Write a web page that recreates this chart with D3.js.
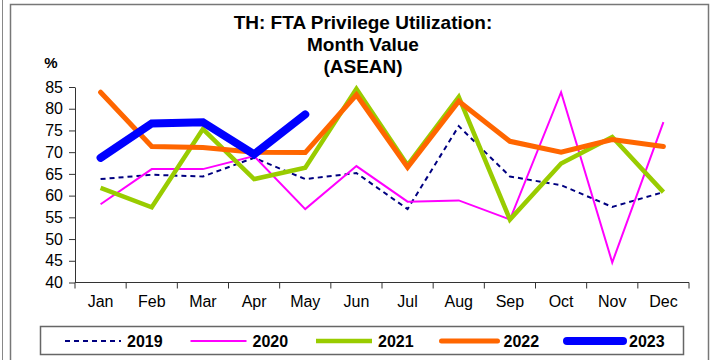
<!DOCTYPE html>
<html>
<head>
<meta charset="utf-8">
<script src="https://cdn.jsdelivr.net/npm/d3@7"></script>
<style>
  html, body { margin: 0; padding: 0; background: #fff; }
  svg { display: block; font-family: "Liberation Sans", Arial, sans-serif; }
</style>
</head>
<body>
<svg id="chart" width="712" height="360"></svg>
<script>
// Monthly FTA privilege utilization rate (%), ASEAN
const months = ["Jan", "Feb", "Mar", "Apr", "May", "Jun", "Jul", "Aug", "Sep", "Oct", "Nov", "Dec"];
const y2019 = [63.8, 64.8, 64.4, 68.7, 63.8, 65.2, 56.9, 76.0, 64.4, 62.4, 57.4, 60.8];
const y2020 = [58.0, 66.1, 66.1, 69.1, 56.9, 66.8, 58.6, 58.9, 54.5, 83.8, 44.6, 76.9];
const y2021 = [61.8, 57.3, 75.3, 63.8, 66.4, 84.6, 67.0, 82.7, 54.5, 67.4, 73.5, 60.8];
const y2022 = [83.8, 71.3, 71.1, 70.0, 69.9, 83.2, 66.5, 81.7, 72.5, 70.0, 72.9, 71.3];
const y2023 = [68.7, 76.6, 76.9, 69.5, 78.7];
const yTicks = [40, 45, 50, 55, 60, 65, 70, 75, 80, 85];
const titleLines = ["TH: FTA Privilege Utilization:", "Month Value", "(ASEAN)"];

const series = [
  { name: "2019", values: y2019, color: "#000080", width: 2, dash: "5,4", cap: "butt" },
  { name: "2020", values: y2020, color: "#FF00FF", width: 2, dash: null, cap: "butt" },
  { name: "2021", values: y2021, color: "#99CC00", width: 4.5, dash: null, cap: "butt" },
  { name: "2022", values: y2022, color: "#FF6600", width: 5, dash: null, cap: "round" },
  { name: "2023", values: y2023, color: "#0000FF", width: 8, dash: null, cap: "round" }
];

const svg = d3.select("#chart");
const plot = { left: 75, right: 689, top: 87, bottom: 282.5 };

// outer frames
svg.append("line").attr("x1", 2.5).attr("x2", 2.5).attr("y1", 0).attr("y2", 360)
  .attr("stroke", "#888").attr("stroke-width", 1);
svg.append("rect").attr("x", 10.5).attr("y", 4.5).attr("width", 698).attr("height", 400)
  .attr("fill", "none").attr("stroke", "#777").attr("stroke-width", 1.5);

// title
svg.append("g").selectAll("text").data(titleLines).join("text")
  .attr("x", 363).attr("y", (d, i) => 29 + i * 22)
  .attr("text-anchor", "middle").attr("font-weight", "bold").attr("font-size", 19)
  .text(d => d);

const x = d3.scaleBand().domain(months).range([plot.left, plot.right]).padding(0);
const y = d3.scaleLinear().domain([40, 85]).range([plot.bottom, plot.top]);

// y axis
const yAxis = svg.append("g").attr("transform", `translate(${plot.left},0)`)
  .call(d3.axisLeft(y).tickValues(yTicks).tickSize(6).tickPadding(6).tickSizeOuter(0));
yAxis.selectAll("text").attr("font-size", 16).attr("fill", "#000").attr("font-family", "Liberation Sans, Arial, sans-serif");
yAxis.select(".domain").attr("stroke", "#333");
yAxis.selectAll(".tick line").attr("stroke", "#333");

svg.append("text").attr("x", 51).attr("y", 68).attr("text-anchor", "middle")
  .attr("font-weight", "bold").attr("font-size", 15).text("%");

// x axis with tick marks on category boundaries
const xAxisG = svg.append("g").attr("transform", `translate(0,${plot.bottom})`);
xAxisG.append("line").attr("x1", plot.left).attr("x2", plot.right)
  .attr("stroke", "#333").attr("stroke-width", 1);
const bounds = months.map(m => x(m)).concat([plot.right]);
xAxisG.selectAll("line.tk").data(bounds).join("line").attr("class", "tk")
  .attr("x1", d => d).attr("x2", d => d).attr("y1", 0).attr("y2", 6)
  .attr("stroke", "#333");
xAxisG.selectAll("text").data(months).join("text")
  .attr("x", d => x(d) + x.bandwidth() / 2).attr("y", 24)
  .attr("text-anchor", "middle").attr("font-size", 16).text(d => d);

// series lines
const line = d3.line().x((d, i) => x(months[i]) + x.bandwidth() / 2).y(d => y(d));
svg.append("g").selectAll("path").data(series).join("path")
  .attr("d", d => line(d.values))
  .attr("fill", "none")
  .attr("stroke", d => d.color)
  .attr("stroke-width", d => d.width)
  .attr("stroke-dasharray", d => d.dash)
  .attr("stroke-linecap", d => d.cap)
  .attr("stroke-linejoin", "miter");

// legend
const legend = svg.append("g");
legend.append("rect").attr("x", 40.5).attr("y", 326.5).attr("width", 643).attr("height", 28)
  .attr("fill", "#fff").attr("stroke", "#666").attr("stroke-width", 1.5);
const item = legend.selectAll("g.item").data(series).join("g").attr("class", "item")
  .attr("transform", (d, i) => `translate(${65 + i * 125.5},341)`);
item.append("line").attr("x1", 0).attr("x2", 56).attr("y1", 0).attr("y2", 0)
  .attr("stroke", d => d.color).attr("stroke-width", d => d.width)
  .attr("stroke-dasharray", d => d.dash).attr("stroke-linecap", d => d.cap);
item.append("text").attr("x", 62).attr("y", 6).attr("font-weight", "bold")
  .attr("font-size", 16).text(d => d.name);
</script>
</body>
</html>
